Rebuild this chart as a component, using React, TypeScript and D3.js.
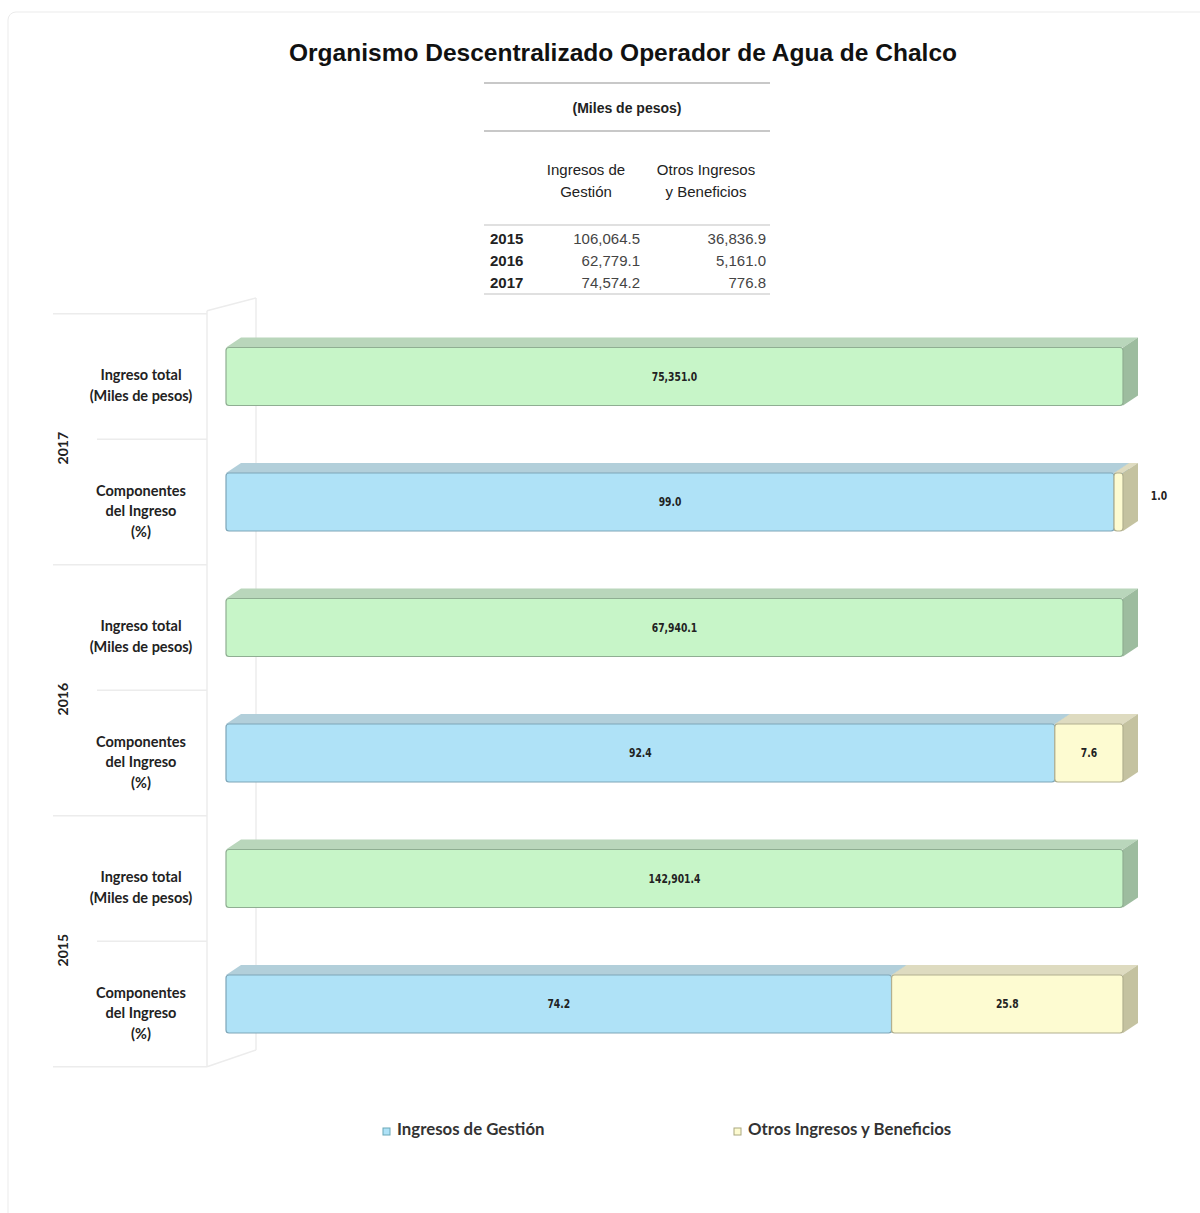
import React from 'react'
import * as d3 from 'd3'

const years = ['2015', '2016', '2017']
const ingresosGestion = ['106,064.5', '62,779.1', '74,574.2']
const otrosIngresos = ['36,836.9', '5,161.0', '776.8']

// rows drawn top to bottom
const rowYears = ['2017', '2016', '2015']
const totalLabels = ['75,351.0', '67,940.1', '142,901.4']
const pctGestion = [99.0, 92.4, 74.2]
const pctOtros = [1.0, 7.6, 25.8]

const W = 1200
const H = 1213
const DX = 15
const DY = 10
const BAR_H = 58

const palette = {
  green: { front: '#c7f5c8', top: '#b9d6bb', side: '#9dbc9f', edge: '#8fae92' },
  blue: { front: '#afe2f7', top: '#b2cfda', side: '#8fb7c7', edge: '#7ea6b8' },
  yellow: { front: '#fdfbd1', top: '#dedbc0', side: '#c4c2a0', edge: '#b2b08f' },
}

const barFont = '"DejaVu Sans Condensed", "Liberation Sans Narrow", Arial, sans-serif'
const labelFont = 'Lato, "Open Sans", sans-serif'

function Bar3D({ x0, x1, yc, colors }) {
  const y0 = yc - BAR_H / 2
  const y1 = yc + BAR_H / 2
  const top = `M${x0},${y0} L${x0 + DX},${y0 - DY} L${x1 + DX},${y0 - DY} L${x1},${y0} Z`
  const side = `M${x1},${y0} L${x1 + DX},${y0 - DY} L${x1 + DX},${y1 - DY} L${x1},${y1} Z`
  return (
    <g>
      <path d={top} fill={colors.top} />
      <path d={side} fill={colors.side} />
      <rect
        x={x0}
        y={y0}
        width={x1 - x0}
        height={BAR_H}
        rx={3}
        fill={colors.front}
        stroke={colors.edge}
        strokeWidth={1.2}
      />
    </g>
  )
}

function BarLabel({ x, y, children }) {
  // condensed look like the original's narrow font
  return (
    <text
      transform={`translate(${x},${y + 4}) scale(0.82,1)`}
      textAnchor="middle"
      fontFamily={barFont}
      fontStretch="condensed"
      fontWeight="bold"
      fontSize={12.5}
      fill="#222"
    >
      {children}
    </text>
  )
}

export default function App() {
  const x = d3.scaleLinear().domain([0, 100]).range([226, 1123])
  const rowKeys = d3.range(6)
  const y = d3.scalePoint().domain(rowKeys).range([376.5, 1004])
  const step = y.step()

  const tableRowY = d3.scalePoint().domain(years).range([239, 283])

  return (
    <svg
      width={W}
      height={H}
      style={{ position: 'absolute', left: 0, top: 0, background: '#fff' }}
    >
      <rect x={8} y={12} width={1200} height={1215} rx={8} fill="#fff" stroke="#ebebeb" />

      <text
        x={623}
        y={61}
        textAnchor="middle"
        fontFamily='"Liberation Sans", Arial, sans-serif'
        fontWeight="bold"
        fontSize={24}
        textLength={668}
        lengthAdjust="spacingAndGlyphs"
        fill="#111"
      >
        Organismo Descentralizado Operador de Agua de Chalco
      </text>

      {/* table */}
      <g fontFamily='"Liberation Sans", Arial, sans-serif' fontSize={14} fill="#222">
        <line x1={484} x2={770} y1={83} y2={83} stroke="#c8c8c8" strokeWidth={2} />
        <line x1={484} x2={770} y1={131} y2={131} stroke="#c8c8c8" strokeWidth={2} />
        <line x1={484} x2={770} y1={225} y2={225} stroke="#d6d6d6" strokeWidth={1.5} />
        <line x1={484} x2={770} y1={294} y2={294} stroke="#d6d6d6" strokeWidth={1.5} />
        <text x={627} y={113} textAnchor="middle" fontWeight="bold" fontSize={14}>(Miles de pesos)</text>
        <text x={586} y={175} textAnchor="middle" fontSize={15}>Ingresos de</text>
        <text x={586} y={197} textAnchor="middle" fontSize={15}>Gestión</text>
        <text x={706} y={175} textAnchor="middle" fontSize={15}>Otros Ingresos</text>
        <text x={706} y={197} textAnchor="middle" fontSize={15}>y Beneficios</text>
        {years.map((yr, i) => (
          <g key={yr}>
            <text x={490} y={tableRowY(yr) + 5} fontWeight="bold" fontSize={15}>{yr}</text>
            <text x={640} y={tableRowY(yr) + 5} textAnchor="end" fontSize={15} fill="#444">{ingresosGestion[i]}</text>
            <text x={766} y={tableRowY(yr) + 5} textAnchor="end" fontSize={15} fill="#444">{otrosIngresos[i]}</text>
          </g>
        ))}
      </g>

      {/* frame / walls */}
      <g stroke="#ececec" strokeWidth={1.5} fill="none">
        <line x1={207} x2={207} y1={y(0) - step / 2 - 3} y2={y(5) + step / 2} />
        <line x1={256} x2={256} y1={298} y2={1050} />
        <line x1={207} x2={256} y1={y(0) - step / 2 - 3} y2={298} />
        <line x1={207} x2={256} y1={y(5) + step / 2} y2={1050} />
        {d3.range(7).map(k => (
          <line
            key={k}
            x1={k % 2 === 0 ? 53 : 97}
            x2={207}
            y1={y(0) - step / 2 + k * step}
            y2={y(0) - step / 2 + k * step}
          />
        ))}
      </g>

      {/* year labels */}
      {rowYears.map((yr, i) => {
        const cy = (y(i * 2) + y(i * 2 + 1)) / 2 + 9
        return (
          <text
            key={yr}
            transform={`translate(68,${cy}) rotate(-90)`}
            textAnchor="middle"
            fontFamily={labelFont}
            fontWeight="bold"
            fontSize={14}
            fill="#222"
          >
            {yr}
          </text>
        )
      })}

      {/* category labels */}
      {rowKeys.map(k => {
        const cy = y(k) + 9
        const lines = k % 2 === 0 ? ['Ingreso total', '(Miles de pesos)'] : ['Componentes', 'del Ingreso', '(%)']
        const off = (lines.length - 1) / 2
        return (
          <text
            key={k}
            textAnchor="middle"
            fontFamily={labelFont}
            fontWeight="bold"
            fontSize={14.5}
            fill="#222"
          >
            {lines.map((t, j) => (
              <tspan key={j} x={141} y={cy + (j - off) * 20.5 + 5}>{t}</tspan>
            ))}
          </text>
        )
      })}

      {/* bars */}
      {rowYears.map((yr, i) => {
        const gy = y(i * 2)
        const cy = y(i * 2 + 1)
        const split = x(pctGestion[i])
        const otrosInside = pctOtros[i] > 3
        return (
          <g key={yr}>
            <Bar3D x0={x(0)} x1={x(100)} yc={gy} colors={palette.green} />
            <BarLabel x={(x(0) + x(100)) / 2} y={gy}>{totalLabels[i]}</BarLabel>
            <Bar3D x0={x(0)} x1={split} yc={cy} colors={palette.blue} />
            <Bar3D x0={split} x1={x(pctGestion[i] + pctOtros[i])} yc={cy} colors={palette.yellow} />
            <BarLabel x={(x(0) + split) / 2} y={cy}>{pctGestion[i].toFixed(1)}</BarLabel>
            <BarLabel
              x={otrosInside ? (split + x(100)) / 2 : x(100) + 36}
              y={otrosInside ? cy : cy - 6}
            >
              {pctOtros[i].toFixed(1)}
            </BarLabel>
          </g>
        )
      })}

      {/* legend */}
      <g fontFamily={labelFont} fontWeight="bold" fontSize={16.8} fill="#333">
        <rect x={383} y={1128} width={7} height={7} fill={palette.blue.front} stroke="#6aa8b8" strokeWidth={1} />
        <text x={397} y={1135}>Ingresos de Gestión</text>
        <rect x={734} y={1128} width={7} height={7} fill={palette.yellow.front} stroke="#aaa880" strokeWidth={1} />
        <text x={748} y={1135}>Otros Ingresos y Beneficios</text>
      </g>
    </svg>
  )
}
